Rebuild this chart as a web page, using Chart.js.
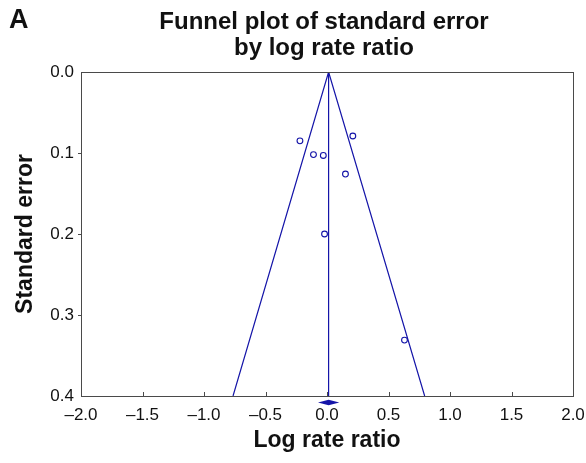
<!DOCTYPE html>
<html>
<head>
<meta charset="utf-8">
<script src="https://cdn.jsdelivr.net/npm/chart.js@4.4.1/dist/chart.umd.min.js"></script>
<style>
  html, body { margin: 0; padding: 0; background: #ffffff; }
  #wrap { width: 586px; height: 463px; }
</style>
</head>
<body>
<div id="wrap"><canvas id="funnelChart" width="586" height="463"></canvas></div>
<script>
// ============================================
// データ
// ============================================
const logRateRatio = [-0.22, -0.11, -0.03, 0.21, 0.15, -0.02, 0.63];
const standardError = [0.085, 0.102, 0.103, 0.079, 0.126, 0.200, 0.331];

// 漏斗の線（左下 → 頂点 → 右下）
const funnelX = [-0.764, 0.013, 0.794];
const funnelY = [0.4, 0.0, 0.4];

// 統合推定値の縦線
const pooledX = [0.013, 0.013];
const pooledY = [0.0, 0.4];

// 軸の下のダイヤ（統合推定値と信頼区間）
const diamondX = [-0.073, 0.013, 0.1, 0.013];
const diamondY = [0.408, 0.4045, 0.408, 0.4115];

// 目盛り
const xTicks = [-2.0, -1.5, -1.0, -0.5, 0.0, 0.5, 1.0, 1.5, 2.0];
const yTicks = [0.0, 0.1, 0.2, 0.3, 0.4];

const FONT = "'Liberation Sans', Arial, sans-serif";
const BLUE = "#1414a8";

const toPoints = (xs, ys) => xs.map((x, i) => ({ x: x, y: ys[i] }));

// 枠線・内向きの目盛り・ダイヤ・タイトルを描くプラグイン
const funnelDecor = {
  id: "funnelDecor",
  afterDatasetsDraw(chart) {
    const { ctx, chartArea: a, scales } = chart;
    const xs = scales.x, ys = scales.y;
    ctx.save();
    // 枠
    ctx.strokeStyle = "#4a4a4a";
    ctx.lineWidth = 1;
    ctx.strokeRect(Math.round(a.left) + 0.5, Math.round(a.top) + 0.5,
      Math.round(a.right - a.left), Math.round(a.bottom - a.top));
    // x軸の目盛り（内向き）
    ctx.beginPath();
    xTicks.slice(1, -1).forEach((v) => {
      const px = Math.round(xs.getPixelForValue(v)) + 0.5;
      ctx.moveTo(px, a.bottom);
      ctx.lineTo(px, a.bottom - 4);
    });
    // y軸の目盛り（外向き）
    yTicks.slice(1, -1).forEach((v) => {
      const py = Math.round(ys.getPixelForValue(v)) + 0.5;
      ctx.moveTo(a.left, py);
      ctx.lineTo(a.left - 3, py);
    });
    ctx.stroke();
    // ダイヤ
    ctx.beginPath();
    diamondX.forEach((v, i) => {
      const px = xs.getPixelForValue(v);
      const py = ys.getPixelForValue(diamondY[i]);
      if (i === 0) ctx.moveTo(px, py); else ctx.lineTo(px, py);
    });
    ctx.closePath();
    ctx.fillStyle = BLUE;
    ctx.fill();
    // タイトル
    ctx.fillStyle = "#111111";
    ctx.textAlign = "center";
    ctx.textBaseline = "middle";
    ctx.font = "bold 24px " + FONT;
    const cx = (a.left + a.right) / 2;
    ctx.fillText("Funnel plot of standard error", cx - 3, 22);
    ctx.fillText("by log rate ratio", cx - 3, 48);
    ctx.textAlign = "left";
    ctx.font = "bold 27px " + FONT;
    ctx.fillText("A", 9, 21);
    ctx.restore();
  },
};

const ctx = document.getElementById("funnelChart").getContext("2d");
new Chart(ctx, {
  type: "scatter",
  data: {
    datasets: [
      {
        label: "Studies",
        data: toPoints(logRateRatio, standardError),
        pointStyle: "circle",
        pointRadius: 2.9,
        pointBorderWidth: 1.1,
        pointBorderColor: BLUE,
        pointBackgroundColor: "rgba(0,0,0,0)",
        showLine: false,
      },
      {
        label: "Funnel",
        data: toPoints(funnelX, funnelY),
        showLine: true,
        borderColor: BLUE,
        borderWidth: 1.2,
        pointRadius: 0,
        tension: 0,
      },
      {
        label: "Pooled",
        data: toPoints(pooledX, pooledY),
        showLine: true,
        borderColor: BLUE,
        borderWidth: 1.2,
        pointRadius: 0,
      },
    ],
  },
  options: {
    responsive: false,
    animation: false,
    layout: { padding: { left: 0, right: 0, top: 72, bottom: 0 } },
    plugins: {
      legend: { display: false },
      tooltip: { enabled: false },
    },
    scales: {
      x: {
        type: "linear",
        min: -2,
        max: 2,
        afterBuildTicks: (scale) => { scale.ticks = xTicks.map((v) => ({ value: v })); },
        afterFit: (scale) => {
          scale.height = 67;
          scale.paddingRight = 13;
        },
        grid: { display: false, drawTicks: false },
        border: { display: false },
        ticks: {
          padding: 9,
          color: "#111111",
          font: { family: FONT, size: 17 },
          callback: (v) => (v < 0 ? "\u2013" + Math.abs(v).toFixed(1) : v.toFixed(1)),
        },
        title: {
          display: true,
          text: "Log rate ratio",
          color: "#111111",
          font: { family: FONT, size: 23, weight: "bold" },
          padding: { top: 0, bottom: 9 },
        },
      },
      y: {
        type: "linear",
        reverse: true,
        min: 0,
        max: 0.4,
        afterBuildTicks: (scale) => { scale.ticks = yTicks.map((v) => ({ value: v })); },
        afterFit: (scale) => { scale.width = 81; },
        grid: { display: false, drawTicks: false },
        border: { display: false },
        ticks: {
          padding: 7,
          color: "#111111",
          font: { family: FONT, size: 17 },
          callback: (v) => v.toFixed(1),
        },
        title: {
          display: true,
          text: "Standard error",
          color: "#111111",
          font: { family: FONT, size: 23, weight: "bold" },
          padding: { top: 12, bottom: 0 },
        },
      },
    },
  },
  plugins: [funnelDecor],
});
</script>
</body>
</html>
